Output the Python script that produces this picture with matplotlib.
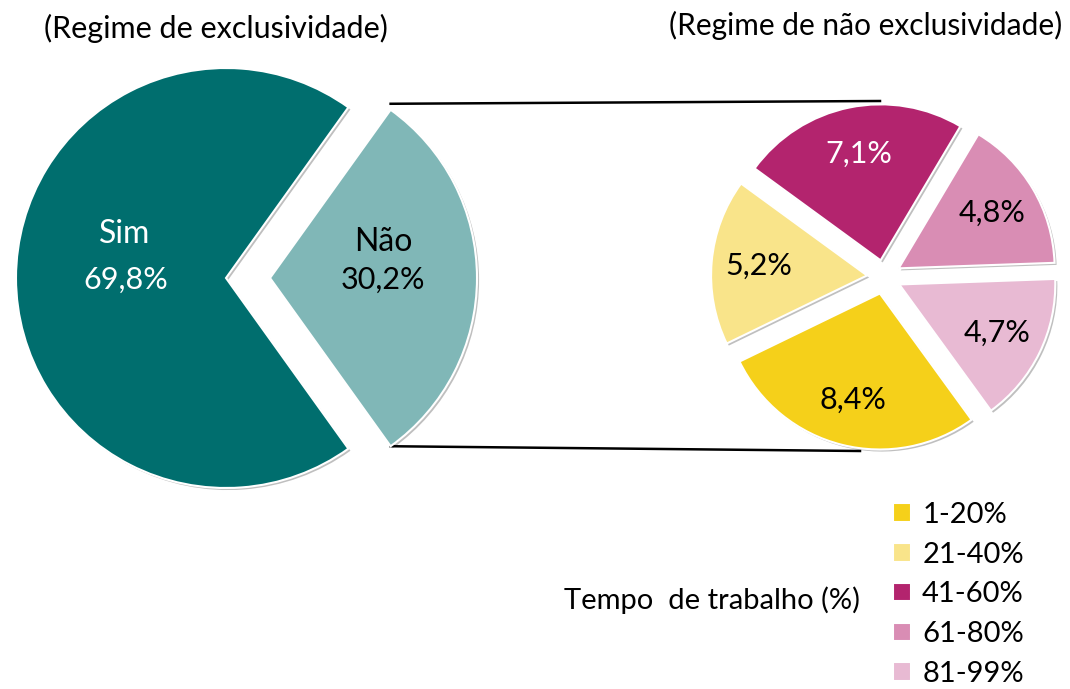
import numpy as np
import matplotlib
matplotlib.use("Agg")
import matplotlib.pyplot as plt
import matplotlib.patheffects as pe

plt.rcParams['font.family'] = ['Lato', 'DejaVu Sans']

# ---- data ----
main_labels = ["Sim", "Não"]
main_values = [69.8, 30.2]
main_colors = ["#006E6E", "#80B7B7"]
main_text_colors = ["white", "black"]

sub_labels = ["1-20%", "21-40%", "41-60%", "61-80%", "81-99%"]
sub_values = [8.4, 5.2, 7.1, 4.8, 4.7]
sub_colors = ["#F5D01A", "#F9E48A", "#B3246E", "#D98DB4", "#E8BAD3"]
sub_text_colors = ["black", "black", "white", "black", "black"]

title_left = "(Regime de exclusividade)"
title_right = "(Regime de não exclusividade)"
legend_title = "Tempo  de trabalho (%)"

W, H = 1070, 689
fig = plt.figure(figsize=(W / 100, H / 100), dpi=100)
ax = fig.add_axes([0, 0, 1, 1])

shadow = [pe.SimplePatchShadow(offset=(1.5, -1.5), alpha=0.25, shadow_rgbFace='black'), pe.Normal()]

def fmt(v):
    return f"{v:.1f}".replace('.', ',') + "%"

# ---- left pie ----
Lc = (226, H - 278)
LR = 210
theta_nao = main_values[1] / sum(main_values) * 360
wl, _ = ax.pie(main_values, colors=main_colors, radius=LR, center=Lc,
               startangle=-theta_nao / 2, counterclock=False,
               explode=[0, 44],
               wedgeprops=dict(edgecolor='white', linewidth=1.5), frame=True)
for w in wl:
    w.set_path_effects(shadow)
nao = wl[1]
nao.set_radius(207)

# left labels
ax.text(125, H - 234, main_labels[0], color=main_text_colors[0], fontsize=23, ha='center', va='center')
ax.text(126, H - 280, fmt(main_values[0]), color=main_text_colors[0], fontsize=22, ha='center', va='center')
ax.text(383, H - 242, main_labels[1], color=main_text_colors[1], fontsize=23, ha='center', va='center')
ax.text(383, H - 280, fmt(main_values[1]), color=main_text_colors[1], fontsize=22, ha='center', va='center')

# ---- right pie ----
Rc = (884, H - 277)
RR = 156
ws, _ = ax.pie(sub_values, colors=sub_colors, radius=RR, center=Rc,
               startangle=-54, counterclock=False,
               explode=[17] * len(sub_values),
               wedgeprops=dict(edgecolor='white', linewidth=1.5), frame=True)
for w in ws:
    w.set_path_effects(shadow)

# labels in right pie
for w, v, tc in zip(ws, sub_values, sub_text_colors):
    mid = np.deg2rad((w.theta1 + w.theta2) / 2)
    cx, cy = w.center
    r = RR * 0.7
    ax.text(cx + r * np.cos(mid), cy + r * np.sin(mid), fmt(v), color=tc,
            fontsize=22, ha='center', va='center')

ax.set_xlim(0, W)
ax.set_ylim(0, H)
ax.set_aspect('equal')
ax.axis('off')

# ---- connector lines ----
t1 = np.deg2rad(nao.theta1)
t2 = np.deg2rad(nao.theta2)
ncx, ncy = nao.center
p_top = (ncx + nao.r * np.cos(max(t1, t2)), ncy + nao.r * np.sin(max(t1, t2)))
p_bot = (ncx + nao.r * np.cos(min(t1, t2)), ncy + nao.r * np.sin(min(t1, t2)))
ax.plot([p_top[0], Rc[0] - 4], [p_top[1] + 6, Rc[1] + RR + 20], color='black', lw=1.8, zorder=0)
ax.plot([p_bot[0], Rc[0] - 24], [p_bot[1], Rc[1] - RR - 18], color='black', lw=1.8, zorder=0)

# ---- titles ----
ax.text(216, H - 28, title_left, fontsize=22, ha='center', va='center')
ax.text(866, H - 25, title_right, fontsize=21.5, ha='center', va='center')

# ---- legend ----
leg = ax.legend(ws, sub_labels, loc='upper left', bbox_to_anchor=(893 / W, 1 - 502 / H),
                bbox_transform=fig.transFigure, frameon=False, fontsize=21,
                handlelength=0.6, handleheight=0.6, handletextpad=0.4,
                labelspacing=0.47, borderpad=0, borderaxespad=0)
for h in leg.legend_handles:
    h.set_path_effects([])
    h.set_edgecolor('white')
ax.text(712, H - 600, legend_title, fontsize=21, ha='center', va='center')

fig.savefig("out.png", dpi=100)
